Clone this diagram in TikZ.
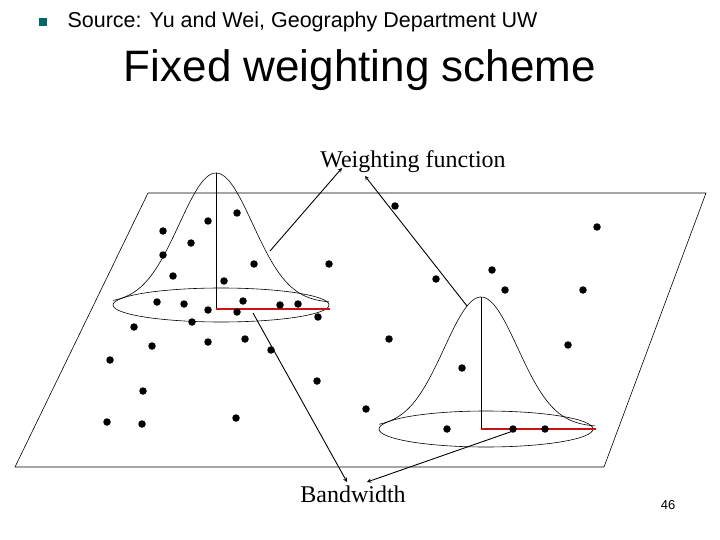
\documentclass[tikz,border=0pt]{standalone}
\usepackage{fontspec}
\setmainfont{Liberation Serif}
\newfontfamily\arial{Liberation Sans}
\begin{document}
\begin{tikzpicture}[x=1pt,y=-1pt,
 dot/.style={circle,fill=black,inner sep=0pt,minimum size=7.5pt},
 thin/.style={line width=0.6pt},
 arr/.style={line width=0.9pt,-stealth},
 red/.style={draw={rgb,255:red,200;green,20;blue,20},line width=1.6pt}]
\useasboundingbox (0,0) rectangle (720,540);
\fill[teal!80!black] (39,18) rectangle (47,26);
\node[anchor=west,font=\arial\fontsize{21.5}{24}\selectfont] (src) at (64,22) {Source: Yu and Wei, Geography Department UW};
\node[font=\arial\fontsize{44}{50}\selectfont] (title) at (360,70) {Fixed weighting scheme};
\draw[thin] (148,193) -- (706,193) -- (604,467) -- (15,467) -- cycle;
% left gaussian
\draw[thin] (221,305) ellipse [x radius=108, y radius=17];
\draw[thin,domain=113:329,samples=80,smooth] plot (\x,{303-130*exp(-((\x-216)/52)^2)});
\draw[thin] (216,173) -- (216,309);
\draw[red] (216,309) -- (330,309);
% right gaussian
\draw[thin] (486,429) ellipse [x radius=107, y radius=18];
\draw[thin,domain=379:595,samples=80,smooth] plot (\x,{427-130*exp(-((\x-481)/52)^2)});
\draw[thin] (481,297) -- (481,429);
\draw[red] (481,429) -- (596,429);
% dots
\foreach \p in {(163,231),(208,221),(237,213),(163,255),(191,243),(173,276),(224,281),(254,264),(329,264),(395,206),(597,227),(436,279),(492,270),(505,290),(583,290),(157,302),(184,304),(208,310),(243,301),(237,312),(280,305),(298,304),(318,317),(192,322),(134,327),(152,346),(208,342),(245,339),(271,350),(389,339),(110,360),(568,345),(143,391),(317,381),(462,368),(366,409),(107,422),(142,424),(236,418),(447,429),(513,429),(545,429)}
 \node[dot] at \p {};
\node[font=\fontsize{24}{28}\selectfont] (wf) at (413,162) {Weighting function};
\node[font=\fontsize{24}{28}\selectfont] (bw) at (353,494) {Bandwidth};
\coordinate (w1) at (270,251); \coordinate (w2) at (467,306);
\coordinate (b1) at (253,313); \coordinate (b2) at (513,431);
\draw[arr] (w1) -- (342,168);
\draw[arr] (w2) -- (365,176);
\draw[arr] (b1) -- (347,482);
\draw[arr] (b2) -- (367,482);
\node[font=\arial\fontsize{13}{15}\selectfont] (pg) at (668,505) {46};
\end{tikzpicture}
\end{document}
